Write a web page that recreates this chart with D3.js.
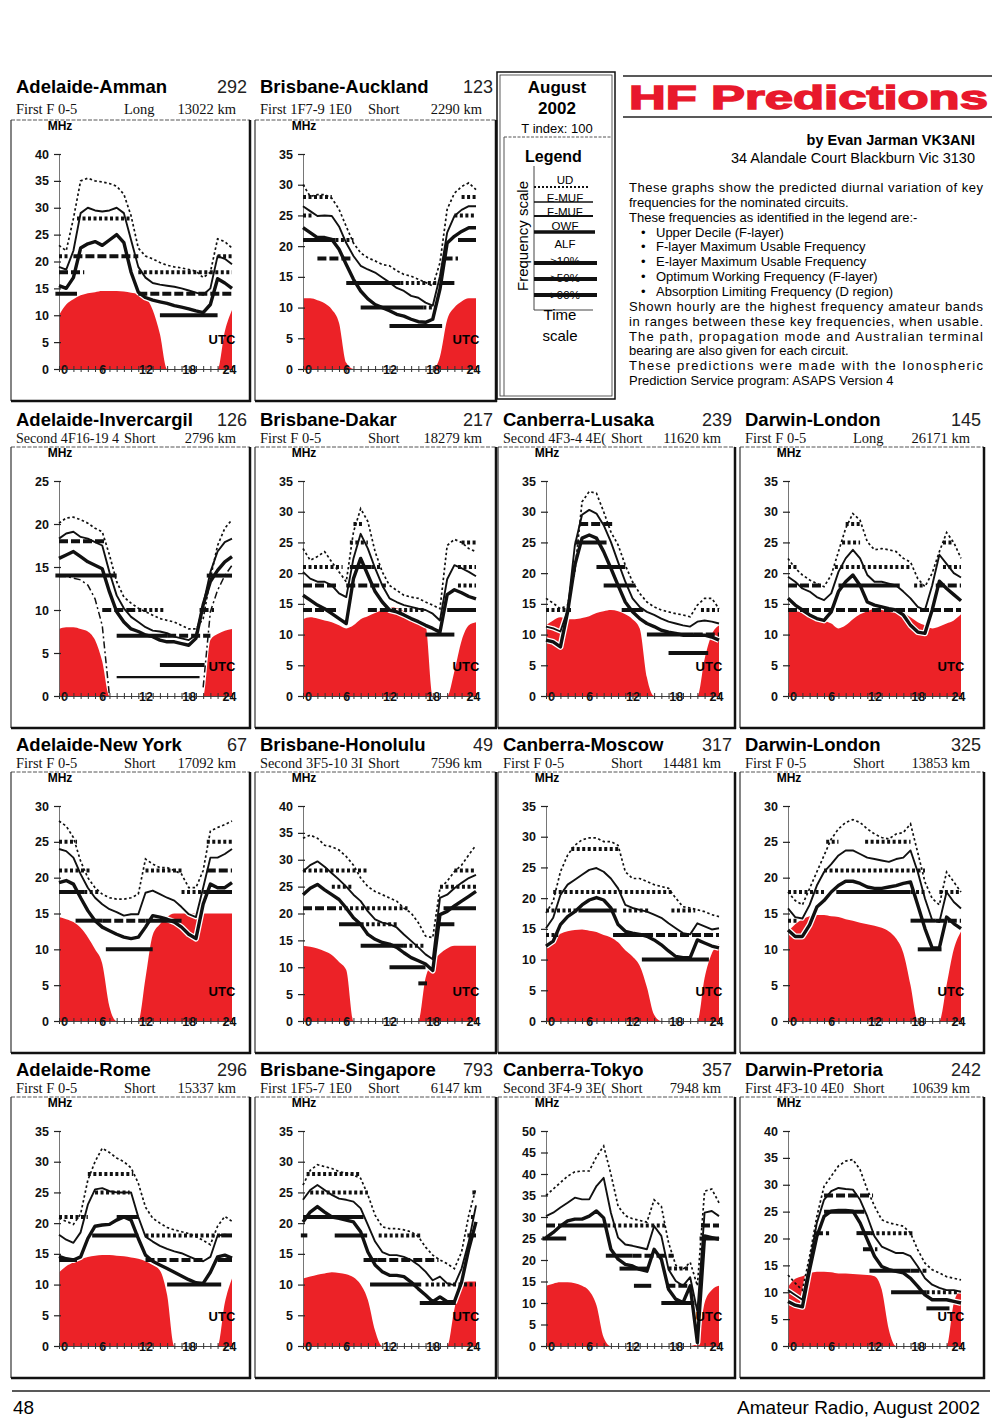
<!DOCTYPE html>
<html>
<head>
<meta charset="utf-8">
<script src="https://cdn.jsdelivr.net/npm/d3@7.9.0/dist/d3.min.js"></script>
<style>
  body { margin: 0; background: #fff; }
  svg { display: block; font-family: 'Liberation Sans', Arial, sans-serif; }
</style>
</head>
<body>
<svg id="page" width="1000" height="1420"></svg>
<script>
// hours of the day (UTC) at which each series is read
const hours = [0,1,2,3,4,5,6,7,8,9,10,11,12,13,14,15,16,17,18,19,20,21,22,23,24];
const xTickLabels = [0, 6, 12, 18, 24];

// circuit headings
const circuitNames = ['Adelaide-Amman', 'Brisbane-Auckland', 'Adelaide-Invercargil', 'Brisbane-Dakar',
  'Canberra-Lusaka', 'Darwin-London', 'Adelaide-New York', 'Brisbane-Honolulu', 'Canberra-Moscow',
  'Darwin-London', 'Adelaide-Rome', 'Brisbane-Singapore', 'Canberra-Tokyo', 'Darwin-Pretoria'];
const bearings = [292, 123, 126, 217, 239, 145, 67, 49, 317, 325, 296, 793, 357, 242];
const modes = ['First F 0-5', 'First 1F7-9 1E0', 'Second 4F16-19 4', 'First F 0-5', 'Second 4F3-4 4E(',
  'First F 0-5', 'First F 0-5', 'Second 3F5-10 3I', 'First F 0-5', 'First F 0-5', 'First F 0-5',
  'First 1F5-7 1E0', 'Second 3F4-9 3E(', 'First 4F3-10 4E0'];
const paths = ['Long', 'Short', 'Short', 'Short', 'Short', 'Long', 'Short', 'Short', 'Short', 'Short',
  'Short', 'Short', 'Short', 'Short'];
const distances = ['13022 km', '2290 km', '2796 km', '18279 km', '11620 km', '26171 km', '17092 km',
  '7596 km', '14481 km', '13853 km', '15337 km', '6147 km', '7948 km', '10639 km'];
const maxMHz = [40, 35, 25, 35, 35, 35, 30, 40, 35, 30, 35, 35, 50, 40];

// band segments: [from hour, to hour, MHz, level]  level 3 >90%, 2 >50%, 1 >10%, 0 thin
const ammanUD   = [23,22,28,35,35.5,35,34.8,34.5,34,32.5,28.5,22.5,21,20.5,19.8,19.3,19,18.8,18.5,18.2,17,18,24.2,23.7,22.5];
const ammanFMUF = [19,18.5,22,29,30,29.5,29.3,29.5,30,29,24,19,17,16,15.7,15.5,15.3,15,14.6,14.2,13.8,15,21,20.5,19.5];
const ammanOWF  = [15.5,15,17,22.5,23.3,23.7,23,24,25,23.5,18,14.3,13.3,12.8,12.5,12.2,11.8,11.5,11.2,10.8,10.5,12,16.8,16,15];
const ammanALF  = [10,12,13,13.7,14.1,14.3,14.5,14.5,14.5,14.4,14.2,14,13.3,11,6.5,0,0,0,0,0,0,0,0,7,11];
const ammanBands = [[-0.5,2.5,14,3],[11,24,14,2],[14,22,10,3],[0,3.5,18,2],[11,24,18,1],[0,1.5,21,1],[2,11,21,2],[22,24,21,1],[2.5,9.8,28,1]];

const aucklandUD   = [30,28.1,28.4,28.4,27.8,26,23.2,20.5,18.9,18.1,17.6,17,16.8,16,15.4,15.1,14.6,14.1,13.5,17.3,26,28.6,29.7,30.3,29.2];
const aucklandFMUF = [26.5,25.7,24.9,25,24.9,23.2,20.5,18.4,16.8,16.2,15.7,14.9,14.1,13.2,12.7,11.9,11.6,10.8,10.3,15.1,22.2,24.9,25.9,26.5,26.5];
const aucklandOWF  = [23,22.2,21.4,21.4,21.1,19.5,17,14.6,12.7,11.4,10.5,10,9.5,8.9,8.6,8.1,7.7,7.6,8.1,13,20.5,21.6,22.4,23,23];
const aucklandALF  = [11.5,11.5,11.2,10.7,9.7,7.5,1,0,0,0,0,0,0,0,0,0,0,0,0,2,8,10,11,11.5,11.5];
const aucklandBands = [[0,4.5,21,3],[4.5,7,21,1],[21.5,24,21,3],[0,4,28,1],[22,24,28,1],[0,1.5,25,1],[21,24,25,1],[2,7,18,2],[19.5,21.5,18,2],[6,13.5,14,3],[13.5,18.5,14,1],[19,21,14,3],[8,16.7,10,3],[16.7,18.5,10,1],[12,19.3,7,3]];

const invercargilUD   = [20.1,20.7,20.8,20.5,20.1,19.5,19.1,16.4,13.3,11.5,10.8,10.2,9.8,9.4,9,8.8,8.6,8.2,7.8,7.8,9,13.7,17.5,19.5,20.5];
const invercargilFMUF = [18.3,18.9,19.1,18.5,18.3,17.9,17.5,14.4,11.7,10.2,9.2,8.6,8,7.6,7.5,7.3,6.9,6.7,6.5,7.1,10.6,14.4,16.8,17.9,18.3];
const invercargilOWF  = [16,16.4,16.8,16.2,15.6,15.2,14.8,12.1,9.8,8.6,7.8,7.5,7.1,6.9,6.5,6.3,6.3,6.1,5.9,6.7,10.6,13.3,14.6,15.6,16.2];
const invercargilEMUF = [13.9,13.9,13.7,13.5,12.9,11.3,8.2,0,null,null,null,null,null,null,null,null,null,null,null,null,1,9.8,12.3,14,15.2];
const invercargilALF  = [7.8,8,8,7.8,7.5,6.5,4,0,0,0,0,0,0,0,0,0,0,0,0,0,0,6.5,7.2,7.6,7.8];
const invercargilBands = [[-0.5,8,14,3],[20.5,24,14,3],[0,6.5,18,2],[6,11,10,2],[11,14.5,10,1],[19.5,21.5,10,2],[8,15,7,3],[15,21,7,2],[14,20.2,3.6,3],[8,19.5,2.2,0]];

const dakarUD   = [24,22.1,22.7,23.5,21.8,20.2,18.6,26.7,30.5,28.4,23.5,20.2,18,17.2,16.4,16.1,15.9,15.3,14.8,14.2,24.5,25.5,25,24,23.5];
const dakarFMUF = [20.2,19.1,18.6,18.6,18,16.7,16.1,22.4,26.4,24,20.8,18,15.9,15.3,14.8,14.5,14.2,14,13.4,12.3,19,21.3,20.8,20.2,19.5];
const dakarOWF  = [16.4,15.6,14.8,14.2,13.4,12.6,11.8,19.1,22.4,19.7,17,15.3,14,13.7,13.2,12.6,12.1,11.5,11,10.4,16.5,17.3,16.8,16.2,15.8];
const dakarALF  = [12.5,12.8,12.6,12.3,12,11.5,11,11.5,12.5,13,13.5,14,14.5,14.3,13.8,13,12.3,11.5,0,0,0,4,9,11.5,12];
const dakarBands = [[0,5,14,2],[9,12.5,14,2],[12.5,17,14,1],[20,24,14,3],[0,5,18,2],[6,11.5,18,2],[21.5,24,18,1],[0,5.5,21,1],[6.5,9.5,21,3],[9.5,11,21,1],[21.5,24,21,1],[6.5,9,25,1],[22,24,25,1],[7,8.5,28,1],[17,21,10,3]];

const lusakaUD   = [15.9,15.1,14.2,14.8,20.2,31.6,33.3,33,30,26.7,24.6,21.3,18.6,16.7,15.3,14.5,14,13.7,13.4,13.2,12.9,14.8,15.9,15.9,14.2];
const lusakaFMUF = [11.3,11,10.5,14,24.5,29.5,30.3,29.7,27.8,25.1,21.8,18.6,15.9,14.5,13.7,13.2,12.6,12.1,11.8,11.5,11.3,12.1,12.3,12.1,11.8];
const lusakaOWF  = [9.1,8.8,8,13.7,21.3,25.7,26.2,25.7,23.5,20.8,18,15.3,13.7,12.6,11.8,11.3,10.7,10.4,10.2,9.9,9.9,9.9,9.9,9.6,9.1];
const lusakaALF  = [11.5,12.3,12.8,12.5,12.5,12.7,13,13.5,13.8,14,13.8,13.3,12.5,11,3,0,0,0,0,0,0,0,6,10,11.5];
const lusakaBands = [[0,3.5,14,1],[10.5,13.5,14,3],[21.5,24,14,1],[4.6,9.3,28,2],[4,8.4,25,3],[7,11,21,3],[8,12.4,18,3],[14,20.5,10,3],[20.5,24,10,2],[17,22.5,7,3]];

const londonLongUD   = [22.4,20.8,19.7,18.9,18.3,17.8,19.7,23.5,27.3,29.7,28.6,25.1,23.8,24,23.8,23.5,22.4,21.8,19.1,17.8,20,23.5,26.6,25,22.4];
const londonLongFMUF = [19.4,18.6,17.5,17,16.1,15.6,16.7,20.2,22.4,23.8,22.4,19.7,18.6,18.6,18.3,18,17,15.9,14.5,14,18,23,21.5,20,19.3];
const londonLongOWF  = [15.9,14.8,14,13.2,12.6,12.3,13.7,17,18.6,19.7,18,15.3,14.8,14.5,14.2,14,13.2,11.5,10.4,10.2,14,18.7,17.5,16.5,15.5];
const londonLongALF  = [13.8,13.8,13.5,13,12.8,12.3,11.8,11,11.5,12.5,13.3,13.8,14.3,14.5,14.3,14,13.5,12.8,12,11.5,11,11.3,11.8,12.3,13.3];
const londonLongBands = [[0,24,14,2],[0,5,18,2],[7,15.5,18,3],[17.5,19,18,1],[20.5,24,18,2],[0,1.5,21,1],[6.5,17,21,1],[21.5,24,21,1],[7.5,10,25,1],[21.5,23,25,1],[8,10,28,1]];

const newYorkUD   = [27.9,27.2,25.6,22.3,20,18.6,17.7,17.2,17,17,17.2,17.7,22.6,21.9,21.4,21.4,21,20.5,18.6,18.6,21,26.5,27,27.4,27.9];
const newYorkFMUF = [24,23.7,22.8,20.5,18.6,17.2,16.3,15.6,15.2,14.7,14.9,14.9,17.9,18.2,17.7,17.2,16.8,15.9,14.9,14.5,18.6,22.8,22.8,23.3,24];
const newYorkOWF  = [19.3,19.6,19.1,17.2,15.4,14,13.1,12.6,12.1,11.7,11.5,11.7,13.1,14.7,14.5,14.2,13.8,13.1,12.1,11.5,16.3,19.1,18.6,18.6,19.3];
const newYorkALF  = [14.5,14.2,13.8,13,11.7,10,8,2,0,0,0,0,6,12,13.5,14.5,15,15,15,15,15,15,15,15,15];
const newYorkBands = [[0,4.5,21,1],[12,17,21,1],[20.5,24,21,2],[0,2.5,25,1],[20.5,24,25,1],[0,3.5,18,3],[3.5,5.5,18,1],[17,19.7,18,1],[20,24,18,3],[2.3,6,14,3],[6,12,14,2],[12,17,14,3],[6.5,13,10,3]];

const honoluluUD   = [34,34.6,34,32.7,32.4,31.8,30.6,29,26.6,25,24.1,23.5,22.9,22.3,21,20.1,18.3,15.8,15.5,24.7,26,27.8,29,30.9,32.7];
const honoluluFMUF = [27.8,29,29.7,28.7,27.5,26.3,25,23.5,22.3,20.4,18.9,18.3,18,17.4,16.1,14.9,13.7,12.4,11.5,22.9,23.5,24.7,25.7,26.6,27.2];
const honoluluOWF  = [23.5,24.7,25.4,24.4,23.5,22.6,21,19.2,18,16.1,15.2,14.6,14.3,13.7,12.7,11.8,11.2,10.6,9.4,19.8,20.4,21.4,22.3,23.2,24.1];
const honoluluALF  = [14,13.8,13.5,13,12.3,11,9.5,0,0,0,0,0,0,0,0,0,0,8,11,12.5,13.5,14,14,14,14];
const honoluluBands = [[0,9,28,1],[21,24,28,1],[4,7,25,1],[19,24,25,1],[0,5,21,2],[5,14.5,21,1],[19.5,24,21,3],[5,8,18,3],[8,13,18,1],[18.5,21,18,3],[8,14,14,3],[14,17,14,1],[12,17,10,3],[16,17.2,7,3]];

const moscowUD   = [17.6,19.5,24.3,27,28.6,29.5,29.8,29.8,29.2,29.2,28.6,24.3,23.2,23.2,22.7,22.2,21.9,21.6,20,18.6,18.4,18.1,17.8,17.3,17];
const moscowFMUF = [15.1,16.8,20.5,22.2,23,23.8,24.6,24.9,24.3,23.2,21.6,18.9,18.4,18.1,17.8,17.3,16.8,15.9,15.1,14.3,14.1,15.9,15.4,14.9,15.1];
const moscowOWF  = [12.2,13,15.7,17,17.8,18.9,19.7,20.1,19.7,18.4,15.7,14.6,14.3,14.1,13.8,13.2,12.4,11.4,10.5,10.3,10.3,13.2,12.7,12.2,11.9];
const moscowALF  = [12.5,13.5,14.2,14.6,14.8,14.9,14.7,14.5,14,13.6,12.8,11.5,10.5,9,5.5,1,0,0,0,0,0,0,7,11,12.5];
const moscowBands = [[3.5,10.2,28,1],[1,17.4,21,1],[0,4.5,18,1],[4.5,9.8,18,3],[10.7,14.5,18,1],[17.4,20.7,18,1],[0,1.7,14,1],[9.3,13.6,14,3],[13.6,24,14,2],[13.3,22.6,10,3]];

const londonShortUD   = [18,16.8,16.2,18.5,20.8,23.1,25.4,26.8,27.7,28.1,27.7,26.8,26.1,25.6,25.4,26.1,26.3,27.5,23.5,19.4,17.1,16.2,20.8,19.4,18];
const londonShortFMUF = [15.7,14.5,14.3,16.2,18.9,20.8,21.9,23.1,23.8,23.8,23.3,22.8,22.6,22.4,22.2,22.6,22.8,23.8,20.8,17.1,14.1,13.8,18,16.6,15.7];
const londonShortOWF  = [12.7,11.8,11.8,13.4,15.9,16.8,18,18.9,19.5,19.5,19.2,18.7,18.5,18.5,18.7,18.9,19.2,19.4,16.2,12.9,10.2,10.2,14.5,13.6,12.9];
const londonShortALF  = [12.5,13.5,14.2,14.6,14.8,14.8,14.6,14.5,14.2,14,13.7,13.5,13.3,13,12.5,11.5,9.5,5,0,0,0,0,5,10,12.5];
const londonShortBands = [[5.3,7,25,1],[10.7,17,25,1],[5,19,21,1],[0,5.3,18,1],[6.7,17,18,3],[17,19,18,1],[21,24,18,1],[0,1.3,14,1],[17,20.5,14,3],[20.5,24,14,2],[18,21.3,10,3]];

const romeUD   = [20.8,20.3,19.8,21.5,27,30,32.2,31.5,30.6,30,29,26.5,22.6,20.8,20,19.3,18.9,18.6,18.3,17.8,17.2,16.5,19.5,21.1,20.3];
const romeFMUF = [18.1,17.3,16.8,18.5,23,25.5,25.7,25.2,25,25,25,21,17.8,17,16.3,15.8,15.4,15.1,14.6,14.1,13.8,14.5,18,18.1,18];
const romeOWF  = [14.6,14.2,14,14.5,17.5,19.5,19.7,19.8,20.5,21,20.5,17.5,14.8,13.8,13.2,12.6,12,11.4,10.8,10.3,10.2,12,14.5,14.8,14.3];
const romeALF  = [12,13,13.6,14.1,14.5,14.7,14.8,14.8,14.7,14.6,14.4,14.2,13.8,13.2,12.3,8.3,0,0,0,0,0,0,0,7,11];
const romeBands = [[4,10.3,28,1],[5,9.8,25,1],[0,4,21,1],[8,11,21,3],[4.6,11,18,3],[12,22.5,18,1],[22.5,24,18,3],[0,2.5,14,3],[12,20,14,2],[22,24,14,3],[15,22.5,10,3]];

const singaporeUD   = [26.2,28.6,29.5,29.2,28.9,28.4,28.1,27.8,27.3,24.6,21.3,19.4,19.1,19.1,18.9,18.6,17.8,16.1,14.8,14,13.4,12.6,15.3,21.3,25.7];
const singaporeFMUF = [23.8,25.4,26.2,25.4,24.6,24,23.8,23.5,22.4,19.7,17,15.3,14.8,14.8,14.5,14,13.2,12.1,10.7,11.3,10.2,9.9,12.6,17,22.9];
const singaporeOWF  = [20.2,21.8,22.7,21.8,21,20.8,20.5,20.2,18.6,15.3,13.2,12.1,11.5,11.5,11.3,10.4,9.3,8.3,7.2,8,7.2,7.2,10.4,15.8,20.2];
const singaporeALF  = [11,11.3,11.6,11.8,12,11.9,11.7,11.2,10,7.5,2.5,0,0,0,0,0,0,0,0,0,0,6,10.3,10.5,10.5];
const singaporeBands = [[0.5,8,28,1],[1,9,25,1],[23.5,24,25,1],[0,8.4,21,3],[23.3,24,21,1],[-0.3,0.6,18,2],[4.4,8.9,18,3],[10.5,16.4,18,1],[22.8,24,18,3],[8.4,10.3,14,3],[10.3,18.8,14,2],[9.3,16.4,10,3],[17,24,10,1],[16.2,21.2,7,3]];

const tokyoUD   = [35,36.5,38,39.5,40.5,40.7,40.7,44,46.5,40,32.5,30.3,29.6,29.2,28.8,34,32.5,24,18.8,17.8,19.5,14,36,36.5,33.3];
const tokyoFMUF = [30.2,31,32.2,33.3,34.5,34.1,34.1,37.2,39.1,31,25.2,23.6,23.3,22.9,22.5,27.9,25.6,17.8,15.1,14,16,8,31,31.4,30.2];
const tokyoOWF  = [25.2,26.4,27.9,29.1,29.5,29.5,30.2,31.4,29.8,22.5,20.2,19,18.6,17.8,17.4,22.5,20.2,13.2,10.9,10.1,14,0.8,25.6,25.2,24.8];
const tokyoALF  = [14,14.5,14.8,14.8,14.6,14,12.8,9.5,2,0,0,0,0,0,0,0,0,0,0,0,0,0.5,10,13,14];
const tokyoBands = [[0,2.5,28,2],[2.5,8.5,28,3],[8.5,16.5,28,1],[21.5,24,28,2],[-0.5,2.8,25,3],[21.3,24,25,3],[8.3,12,21,3],[12,17.7,21,2],[10.2,14.1,18,3],[17,20,18,1],[12.2,14.6,14,3],[16.7,19.6,14,2],[16,20.6,10,3]];

const pretoriaUD   = [13.2,11.7,10.4,16.7,24.1,29.7,31.6,33.5,34.4,34.7,32.8,29.1,26,23.5,22.9,22.6,22.3,21,17.9,15.4,14.2,13.6,12.9,12.6,12.3];
const pretoriaFMUF = [10.4,9.5,8.6,15.4,22.9,27.2,28.8,29.4,29.2,29.1,27.2,24.1,20.4,18.5,17.9,17.3,17.3,16.7,14.8,12.6,11.4,10.8,10.4,10.4,10.1];
const pretoriaOWF  = [8.3,7.6,7.3,14.2,20.4,24.1,25.1,25.2,25.2,25.1,22.9,19.8,16.7,14.8,14.2,13.9,13.6,12.6,11.1,9.5,8.6,8.6,8.6,8.3,8];
const pretoriaALF  = [11,12.5,13,13.5,13.8,13.8,13.7,13.5,13.5,13.4,13.3,13.2,13,10.5,3,0,0,0,0,0,0,0,0,8,10.5];
const pretoriaBands = [[5,11.8,28,2],[5,10.6,25,3],[3.6,5.7,21,2],[9.5,11.5,21,3],[11.5,17.4,21,1],[10.4,12.4,18,2],[11.3,17,14,3],[17,19.2,14,2],[14.3,19.2,10,3],[19.2,23.8,10,1],[19.2,22.4,7,3]];

const udSeries   = [ammanUD, aucklandUD, invercargilUD, dakarUD, lusakaUD, londonLongUD, newYorkUD, honoluluUD, moscowUD, londonShortUD, romeUD, singaporeUD, tokyoUD, pretoriaUD];
const fmufSeries = [ammanFMUF, aucklandFMUF, invercargilFMUF, dakarFMUF, lusakaFMUF, londonLongFMUF, newYorkFMUF, honoluluFMUF, moscowFMUF, londonShortFMUF, romeFMUF, singaporeFMUF, tokyoFMUF, pretoriaFMUF];
const owfSeries  = [ammanOWF, aucklandOWF, invercargilOWF, dakarOWF, lusakaOWF, londonLongOWF, newYorkOWF, honoluluOWF, moscowOWF, londonShortOWF, romeOWF, singaporeOWF, tokyoOWF, pretoriaOWF];
const alfSeries  = [ammanALF, aucklandALF, invercargilALF, dakarALF, lusakaALF, londonLongALF, newYorkALF, honoluluALF, moscowALF, londonShortALF, romeALF, singaporeALF, tokyoALF, pretoriaALF];
const bandSets   = [ammanBands, aucklandBands, invercargilBands, dakarBands, lusakaBands, londonLongBands, newYorkBands, honoluluBands, moscowBands, londonShortBands, romeBands, singaporeBands, tokyoBands, pretoriaBands];
const emufSeries = [null, null, invercargilEMUF, null, null, null, null, null, null, null, null, null, null, null];

const circuits = circuitNames.map((name, i) => ({
  name, bearing: bearings[i], mode: modes[i], path: paths[i], dist: distances[i], max: maxMHz[i],
  ud: udSeries[i], fmuf: fmufSeries[i], owf: owfSeries[i], alf: alfSeries[i], emuf: emufSeries[i], bands: bandSets[i]
}));

// page layout
const colX = [11, 255, 498, 740];
const colW = [239, 241, 237, 244];
const rowTop = [120, 447, 772, 1097];
const panelH = 281;
const titleDy = [-27, -21, -21, -21];
const subDy = [-6, -4, -4, -4];
const slots = [[0,0],[0,1],[1,0],[1,1],[1,2],[1,3],[2,0],[2,1],[2,2],[2,3],[3,0],[3,1],[3,2],[3,3]];

const RED = '#ec2227';
const bandDash = { 0: null, 1: '3,2.5', 2: '9,3', 3: null };

const svg = d3.select('#page');
svg.append('rect').attr('width', 1000).attr('height', 1420).attr('fill', '#fff');

function drawCircuit(c, row, col) {
  const left = colX[col], width = colW[col], top = rowTop[row];
  const right = left + width, bottom = top + panelH;
  const axisX = left + 48;
  const x = d3.scaleLinear().domain([0, 24]).range([axisX, axisX + 173]);
  const y = d3.scaleLinear().domain([0, c.max]).range([top + 249, top + 34]);
  const g = svg.append('g');

  // headings
  g.append('text').attr('x', left + 5).attr('y', top + titleDy[row])
    .attr('font-size', 18.5).attr('font-weight', 'bold').text(c.name);
  g.append('text').attr('x', right - 3).attr('y', top + titleDy[row]).attr('text-anchor', 'end')
    .attr('font-size', 18).attr('fill', '#222').text(c.bearing);

  const sub = g.append('g').attr('font-family', "'Liberation Serif', 'Times New Roman', serif")
    .attr('font-size', 14.5).attr('fill', '#111');
  const modeText = sub.append('text').attr('x', left + 5).attr('y', top + subDy[row]).text(c.mode);
  // squeeze long mode strings so they stop before the path field
  const maxModeW = 103;
  if (modeText.node().getComputedTextLength() > maxModeW) {
    modeText.attr('textLength', maxModeW).attr('lengthAdjust', 'spacingAndGlyphs');
  }
  sub.append('text').attr('x', left + 113).attr('y', top + subDy[row]).text(c.path);
  sub.append('text').attr('x', right - 14).attr('y', top + subDy[row]).attr('text-anchor', 'end').text(c.dist);

  // frame
  g.append('line').attr('x1', left).attr('x2', right).attr('y1', top).attr('y2', top)
    .attr('stroke', '#555').attr('stroke-width', 1).attr('stroke-dasharray', '4,1.5');
  g.append('line').attr('x1', left).attr('x2', left).attr('y1', top).attr('y2', bottom)
    .attr('stroke', '#333').attr('stroke-width', 1.2);
  g.append('line').attr('x1', right).attr('x2', right).attr('y1', top).attr('y2', bottom + 1)
    .attr('stroke', '#111').attr('stroke-width', 2.5);
  g.append('line').attr('x1', left).attr('x2', right + 1).attr('y1', bottom).attr('y2', bottom)
    .attr('stroke', '#111').attr('stroke-width', 2.5);

  const pts = arr => hours.map((h, i) => [h, arr[i]]);

  // absorption limiting frequency (red fill)
  const area = d3.area().x(d => x(d[0])).y0(y(0)).y1(d => y(d[1])).curve(d3.curveMonotoneX);
  g.append('path').attr('d', area(pts(c.alf))).attr('fill', RED);

  const line = d3.line().defined(d => d[1] != null).x(d => x(d[0])).y(d => y(d[1]));

  // white outline where the curves cross the red
  [[c.fmuf, 4.5], [c.owf, 6]].forEach(([arr, w]) => {
    g.append('path').attr('d', line(pts(arr))).attr('fill', 'none')
      .attr('stroke', '#fff').attr('stroke-width', w).attr('stroke-linejoin', 'round');
  });

  // axes
  const yAxis = g.append('g').attr('transform', `translate(${axisX},0)`)
    .call(d3.axisLeft(y).tickValues(d3.range(0, c.max + 1, 5)).tickSizeOuter(0).tickSize(4).tickPadding(6));
  yAxis.select('.domain').attr('stroke', '#666').attr('stroke-width', 0.9);
  yAxis.selectAll('.tick line').attr('x1', -5).attr('x2', 2).attr('stroke', '#222').attr('stroke-width', 1.2);
  yAxis.selectAll('.tick text').attr('x', -10).attr('font-size', 12.5).attr('font-weight', 'bold')
    .attr('font-family', "'Liberation Sans', Arial, sans-serif").attr('fill', '#111');

  const xAxis = g.append('g').attr('transform', `translate(0,${y(0)})`)
    .call(d3.axisBottom(x).tickValues(hours).tickSize(0).tickSizeOuter(0)
      .tickFormat(h => xTickLabels.includes(h) ? h : ''));
  xAxis.select('.domain').attr('stroke', '#444').attr('stroke-width', 1);
  xAxis.selectAll('.tick line').attr('y1', -3).attr('y2', 3).attr('stroke', '#333').attr('stroke-width', 1);
  xAxis.selectAll('.tick text').attr('y', 0).attr('dy', '0.36em')
    .attr('dx', h => h === 0 ? 5 : (h === 24 ? -3 : 0))
    .attr('font-size', 12.5).attr('font-weight', 'bold')
    .attr('font-family', "'Liberation Sans', Arial, sans-serif").attr('fill', '#111');

  g.append('text').attr('x', axisX + 1).attr('y', top + 10).attr('text-anchor', 'middle')
    .attr('font-size', 12).attr('font-weight', 'bold').text('MHz');

  // frequency curves
  g.append('path').attr('d', line(pts(c.ud))).attr('fill', 'none').attr('stroke', '#111')
    .attr('stroke-width', 1.7).attr('stroke-dasharray', '2.5,2.5');
  if (c.emuf) {
    g.append('path').attr('d', line(pts(c.emuf))).attr('fill', 'none').attr('stroke', '#111')
      .attr('stroke-width', 1.5).attr('stroke-dasharray', '7,3,2,3');
  }
  g.append('path').attr('d', line(pts(c.fmuf))).attr('fill', 'none').attr('stroke', '#111')
    .attr('stroke-width', 1.9).attr('stroke-linejoin', 'round');
  g.append('path').attr('d', line(pts(c.owf))).attr('fill', 'none').attr('stroke', '#111')
    .attr('stroke-width', 3.4).attr('stroke-linejoin', 'round');

  // amateur band availability bars
  g.selectAll('line.band').data(c.bands).join('line').attr('class', 'band')
    .attr('x1', d => x(d[0])).attr('x2', d => x(d[1]))
    .attr('y1', d => y(d[2])).attr('y2', d => y(d[2]))
    .attr('stroke', '#111').attr('stroke-width', d => d[3] === 0 ? 2.2 : 4)
    .attr('stroke-dasharray', d => bandDash[d[3]]);

  g.append('text').attr('x', x(22.6)).attr('y', y(0) - 25).attr('text-anchor', 'middle')
    .attr('font-size', 13).attr('font-weight', 'bold').text('UTC');
}

circuits.forEach((c, i) => drawCircuit(c, slots[i][0], slots[i][1]));

// legend box
const lg = svg.append('g');
lg.append('rect').attr('x', 497).attr('y', 72).attr('width', 118).attr('height', 327)
  .attr('fill', 'none').attr('stroke', '#111').attr('stroke-width', 1.5);
lg.append('rect').attr('x', 500).attr('y', 75).attr('width', 112).attr('height', 321)
  .attr('fill', 'none').attr('stroke', '#333').attr('stroke-width', 0.8);
lg.append('line').attr('x1', 504).attr('x2', 611).attr('y1', 137).attr('y2', 137)
  .attr('stroke', '#555').attr('stroke-dasharray', '3,1.5');
lg.append('line').attr('x1', 504).attr('x2', 504).attr('y1', 137).attr('y2', 396).attr('stroke', '#555');
lg.append('text').attr('x', 557).attr('y', 93).attr('text-anchor', 'middle').attr('font-size', 17)
  .attr('font-weight', 'bold').text('August');
lg.append('text').attr('x', 557).attr('y', 114).attr('text-anchor', 'middle').attr('font-size', 17)
  .attr('font-weight', 'bold').text('2002');
lg.append('text').attr('x', 557).attr('y', 133).attr('text-anchor', 'middle').attr('font-size', 13)
  .text('T index: 100');
lg.append('text').attr('x', 525).attr('y', 162).attr('font-size', 16).attr('font-weight', 'bold').text('Legend');
lg.append('text').attr('transform', 'translate(528,236) rotate(-90)').attr('text-anchor', 'middle')
  .attr('font-size', 15).text('Frequency scale');
lg.append('line').attr('x1', 534).attr('x2', 534).attr('y1', 166).attr('y2', 310).attr('stroke', '#444');
lg.append('line').attr('x1', 534).attr('x2', 593).attr('y1', 310).attr('y2', 310).attr('stroke', '#444');

const legendItems = [
  ['UD', 184, 187, 590, 1.8, '2,2'],
  ['E-MUF', 202, 202, 593, 1.5, null],
  ['F-MUF', 216, 216, 593, 1.8, null],
  ['OWF', 230, 232, 595, 3.5, null],
  ['ALF', 248, null, 0, 0, null],
  ['>10%', 265, 263, 597, 3.8, null],
  ['>50%', 282, 279, 597, 3.8, null],
  ['>90%', 299, 295, 597, 3.8, null]
];
legendItems.forEach(([label, ty, ly, x2, w, dash]) => {
  lg.append('text').attr('x', 565).attr('y', ty).attr('text-anchor', 'middle').attr('font-size', 11.5).text(label);
  if (ly != null) {
    lg.append('line').attr('x1', 534).attr('x2', x2).attr('y1', ly).attr('y2', ly)
      .attr('stroke', '#111').attr('stroke-width', w).attr('stroke-dasharray', dash);
  }
});
lg.append('text').attr('x', 560).attr('y', 320).attr('text-anchor', 'middle').attr('font-size', 15).text('Time');
lg.append('text').attr('x', 560).attr('y', 341).attr('text-anchor', 'middle').attr('font-size', 15).text('scale');

// heading block
const hb = svg.append('g');
hb.append('line').attr('x1', 623).attr('x2', 992).attr('y1', 76).attr('y2', 76).attr('stroke', '#222').attr('stroke-width', 1.6);
hb.append('line').attr('x1', 623).attr('x2', 992).attr('y1', 117).attr('y2', 117).attr('stroke', '#222').attr('stroke-width', 1.6);
hb.append('text').attr('x', 629).attr('y', 109).attr('font-size', 33).attr('font-weight', 'bold')
  .attr('fill', '#e8192c').attr('stroke', '#e8192c').attr('stroke-width', 1.4)
  .attr('textLength', 359).attr('lengthAdjust', 'spacingAndGlyphs').text('HF Predictions');
hb.append('text').attr('x', 975).attr('y', 145).attr('text-anchor', 'end').attr('font-size', 14.5)
  .attr('font-weight', 'bold').text('by Evan Jarman VK3ANI');
hb.append('text').attr('x', 975).attr('y', 163).attr('text-anchor', 'end').attr('font-size', 14.5)
  .text('34 Alandale Court Blackburn Vic 3130');

const paragraph = [
  ['These graphs show the predicted diurnal variation of key', true, false],
  ['frequencies for the nominated circuits.', false, false],
  ['These frequencies as identified in the legend are:-', false, false],
  ['Upper Decile (F-layer)', false, true],
  ['F-layer Maximum Usable Frequency', false, true],
  ['E-layer Maximum Usable Frequency', false, true],
  ['Optimum Working Frequency (F-layer)', false, true],
  ['Absorption Limiting Frequency (D region)', false, true],
  ['Shown hourly are the highest frequency amateur bands', true, false],
  ['in ranges between these key frequencies, when usable.', true, false],
  ['The path, propagation mode and Australian terminal', true, false],
  ['bearing are also given for each circuit.', false, false],
  ['These predictions were made with the Ionospheric', true, false],
  ['Prediction Service program: ASAPS Version 4', false, false]
];
paragraph.forEach(([txt, justify, bullet], i) => {
  const ty = 192 + i * 14.85;
  if (bullet) {
    hb.append('text').attr('x', 641).attr('y', ty).attr('font-size', 13).text('\u2022');
  }
  const t = hb.append('text').attr('x', bullet ? 656 : 629).attr('y', ty).attr('font-size', 13).text(txt);
  if (justify) t.attr('textLength', 354).attr('lengthAdjust', 'spacing');
});

// footer
svg.append('line').attr('x1', 12).attr('x2', 990).attr('y1', 1391).attr('y2', 1391)
  .attr('stroke', '#222').attr('stroke-width', 1.6);
svg.append('text').attr('x', 13).attr('y', 1414).attr('font-size', 19).text('48');
svg.append('text').attr('x', 980).attr('y', 1414).attr('text-anchor', 'end').attr('font-size', 19)
  .text('Amateur Radio, August 2002');
</script>
</body>
</html>
